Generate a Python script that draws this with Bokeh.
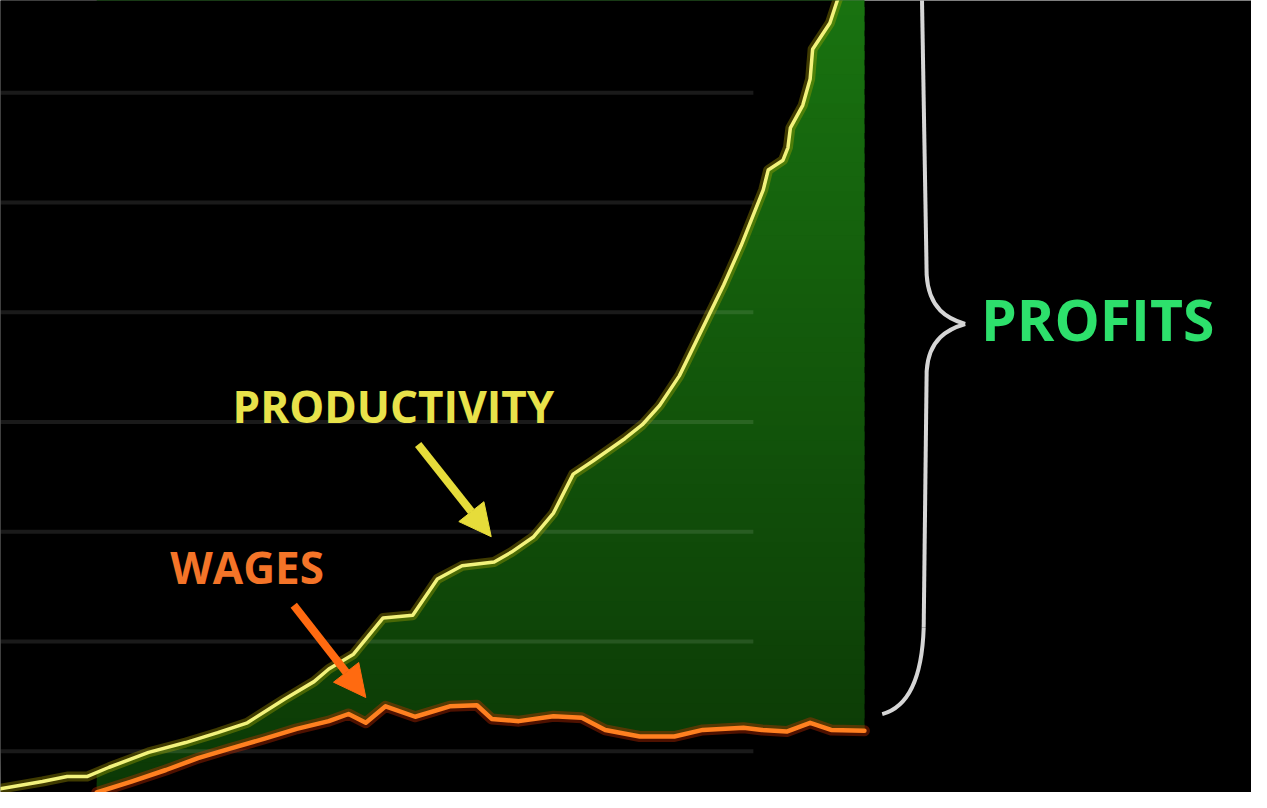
from bokeh.plotting import figure
from bokeh.models import Range1d, Arrow, NormalHead
from bokeh.core.properties import value
from bokeh.embed import file_html
from bokeh.resources import INLINE

# ---- data (year, index value) ----
prod_year = [1945.0, 1948.4, 1950.4, 1952.0, 1953.8, 1957.0, 1960.0, 1962.6, 1965.0, 1968.0,
             1970.4, 1971.6, 1973.6, 1976.0, 1978.4, 1980.4, 1982.4, 1985.0, 1986.4, 1988.2,
             1989.8, 1991.4, 1993.0, 1995.6, 1997.0, 1998.4, 2000.0, 2001.0, 2003.6, 2005.0,
             2006.8, 2007.2, 2008.4, 2008.8, 2009.0, 2010.0, 2010.6, 2010.8, 2012.2, 2012.8, 2015.0]
prod_val = [13.2, 14.5, 15.4, 15.4, 17.1, 19.8, 21.6, 23.4, 25.2, 29.5,
            32.7, 35.0, 37.7, 44.3, 44.8, 51.4, 53.8, 54.5, 56.3, 59.1,
            63.4, 70.5, 72.9, 77.0, 79.5, 83.0, 88.4, 93.0, 105.0, 112.1,
            122.3, 125.9, 127.7, 130.0, 133.6, 137.7, 142.5, 147.9, 152.7, 156.8, 167.5]

wage_year = [1952.8, 1955.6, 1958.4, 1961.0, 1963.6, 1966.4, 1969.0, 1971.6, 1973.2, 1974.6,
             1976.2, 1978.6, 1981.4, 1983.6, 1984.8, 1987.0, 1989.8, 1992.1, 1994.0, 1996.8,
             1999.6, 2001.9, 2005.2, 2006.7, 2008.7, 2010.6, 2012.3, 2015.0]
wage_val = [12.5, 14.5, 16.6, 18.75, 20.5, 22.3, 24.1, 25.5, 26.8, 25.2,
            28.2, 26.3, 28.2, 28.4, 25.9, 25.5, 26.4, 26.1, 23.9, 22.7,
            22.7, 23.9, 24.3, 23.9, 23.6, 25.2, 23.9, 23.75]

grid_levels = [20, 40, 60, 80, 100, 120, 140]

labels = ["PRODUCTIVITY", "WAGES", "PROFITS"]

X0, X1 = 1945.0, 2046.36
Y0, Y1 = 12.5, 156.79

p = figure(width=1251, height=792, output_backend="svg", toolbar_location=None,
           x_range=Range1d(X0, X1), y_range=Range1d(Y0, Y1),
           background_fill_color="black", border_fill_color="black",
           min_border=0, outline_line_color=None)
p.axis.visible = False
p.grid.visible = False

# ---- gradient green fill (overlapping bands), then black masks outside the gap ----
n = 60
ylo, yhi = 10.0, 170.0
step = (yhi - ylo) / n
c_bot = (11, 55, 5)
c_top = (26, 120, 17)
bottoms, tops, cols = [], [], []
for i in range(n):
    b = ylo + step * i
    t = b + step * 1.6
    f = (i + 0.5) / n
    c = tuple(int(round(c_bot[k] + (c_top[k] - c_bot[k]) * f)) for k in range(3))
    bottoms.append(b); tops.append(t); cols.append("#%02x%02x%02x" % c)
p.quad(left=wage_year[0], right=wage_year[-1], bottom=bottoms, top=tops,
       fill_color=cols, line_color=None)

# mask above productivity
mx = prod_year + [prod_year[-1], prod_year[0] - 1]
my = prod_val + [200, 200]
p.patch(mx, my, fill_color="black", line_color=None)
# mask below wages
wx = [wage_year[0]] + wage_year + [wage_year[-1] + 0.2, wage_year[-1] + 0.2]
wy = [0] + wage_val + [wage_val[-1], 0]
p.patch(wx, wy, fill_color="black", line_color=None)

# ---- faint horizontal guide lines ----
p.segment(x0=1945.0, x1=2006.0, y0=grid_levels, y1=grid_levels,
          line_color="white", line_alpha=0.10, line_width=4)

# ---- lines with glow ----
p.line(prod_year, prod_val, line_color="#b8a800", line_alpha=0.35, line_width=10,
       line_join="round", line_cap="round")
p.line(prod_year, prod_val, line_color="#f2f27c", line_width=3.5,
       line_join="round", line_cap="round")
p.line(wage_year, wage_val, line_color="#e03000", line_alpha=0.35, line_width=11,
       line_join="round", line_cap="round")
p.line(wage_year, wage_val, line_color="#ff8020", line_width=4.5,
       line_join="round", line_cap="round")

# ---- brace ----
brace_col = "#d6d6d6"
p.segment(x0=[2019.64, 2020.04], y0=[160, 89.29], x1=[2020.04, 2019.8], y1=[106.79, 42.5],
          line_color=brace_col, line_width=4)
p.bezier(x0=[2020.04, 2023.16, 2019.8], y0=[106.79, 97.86, 42.5],
         x1=[2023.16, 2020.04, 2016.44], y1=[97.86, 89.29, 26.79],
         cx0=[2020.2, 2021.8, 2019.64], cy0=[100.54, 96.96, 31.79],
         cx1=[2021.8, 2020.2, 2018.2], cy1=[98.75, 95.18, 27.86],
         line_color=brace_col, line_width=4)

# ---- arrows ----
p.add_layout(Arrow(end=NormalHead(size=32, fill_color="#e6dc3a", line_color="#e6dc3a"),
                   x_start=1978.84, y_start=75.9, x_end=1984.76, y_end=59.1,
                   line_color="#e6dc3a", line_width=8))
p.add_layout(Arrow(end=NormalHead(size=32, fill_color="#ff6a10", line_color="#ff6a10"),
                   x_start=1968.76, y_start=46.6, x_end=1974.6, y_end=29.8,
                   line_color="#ff6a10", line_width=8))

# ---- labels ----
p.text(x=[1963.8], y=[83.0], text=[labels[0]], text_font=value("Open Sans"),
       text_font_size="44px", text_font_style="bold", text_color="#e8e24a",
       text_baseline="alphabetic")
p.text(x=[1958.76], y=[53.6], text=[labels[1]], text_font=value("Open Sans"),
       text_font_size="44px", text_font_style="bold", text_color="#f47428",
       text_baseline="alphabetic")
p.text(x=[2024.44], y=[98.8], text=[labels[2]], text_font=value("Open Sans"),
       text_font_size="57px", text_font_style="bold", text_color="#2de06c",
       text_baseline="alphabetic")

open("out.html", "w").write(file_html(p, INLINE))
